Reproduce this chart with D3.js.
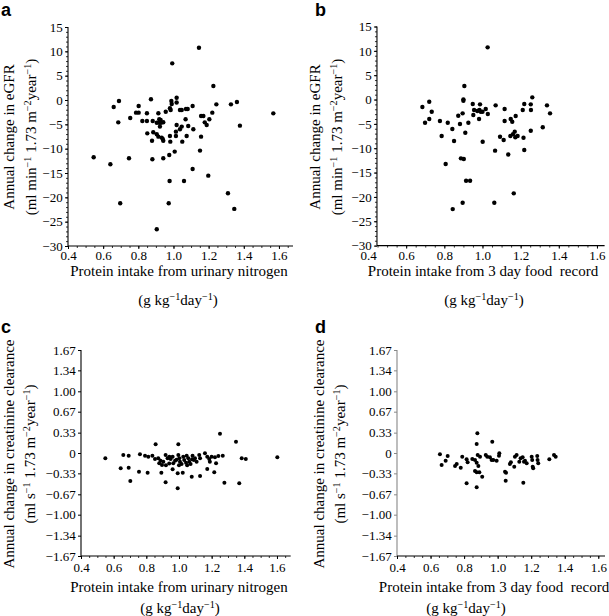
<!DOCTYPE html>
<html><head><meta charset="utf-8">
<script src="https://cdn.jsdelivr.net/npm/d3@7"></script>
<style>
body{margin:0;background:#fff}
svg{display:block;background:#fff}
text{font-family:'Liberation Serif','Times New Roman',serif;fill:#000}
</style>
</head><body>
<svg id="chart" width="609" height="616"></svg>
<script>
// ---------------- data ----------------
const aPoints = [[1.145,10.74],[0.993,7.53],[1.227,2.87],[0.872,0.14],[1.018,0.47],[0.690,-0.21],[0.660,-1.44],[0.802,-1.23],[0.988,-0.20],[0.990,-0.82],[0.980,-1.70],[0.984,-2.05],[1.037,-2.05],[1.047,-2.05],[1.071,-1.85],[1.081,-1.85],[1.109,-1.23],[0.956,-2.40],[0.914,-2.73],[0.787,-2.60],[0.802,-2.60],[0.849,-2.73],[0.754,-3.70],[0.823,-4.30],[0.849,-4.30],[0.882,-4.30],[0.905,-4.66],[0.919,-4.66],[0.929,-4.66],[0.919,-3.97],[1.069,-3.97],[1.157,-3.29],[1.170,-3.29],[1.178,-4.59],[1.189,-5.13],[1.204,-3.97],[1.221,-2.60],[1.244,-0.89],[1.327,-0.89],[1.361,-0.41],[1.568,-2.74],[1.378,-5.27],[0.686,-4.59],[0.923,-5.47],[1.018,-5.13],[1.047,-5.47],[1.037,-6.02],[1.084,-5.34],[1.113,-6.02],[0.851,-6.85],[0.885,-6.64],[0.905,-7.05],[0.914,-7.53],[0.933,-7.73],[0.980,-7.39],[1.014,-7.39],[1.075,-7.39],[1.157,-7.53],[0.939,-8.00],[0.942,-8.36],[0.878,-8.36],[0.982,-8.56],[1.050,-8.56],[0.546,-11.77],[0.641,-13.20],[0.747,-11.97],[0.880,-12.18],[0.942,-11.97],[0.976,-11.29],[1.007,-10.60],[1.151,-10.40],[1.109,-14.17],[0.978,-16.63],[1.060,-16.63],[1.198,-15.54],[0.697,-21.21],[0.973,-21.21],[1.310,-19.16],[1.346,-22.38],[0.905,-26.55],[1.018,-0.50],[1.014,-6.50],[0.942,-4.58],[0.927,-4.10]];

const bPoints = [[1.027,10.72],[0.905,2.77],[0.900,0.04],[0.900,-0.25],[0.685,-1.54],[0.721,-0.45],[0.734,-2.50],[0.699,-4.76],[0.721,-4.00],[0.777,-4.41],[0.818,-4.76],[0.842,-6.06],[0.873,-3.33],[0.896,-2.84],[0.882,-5.03],[0.926,-4.76],[0.910,-6.82],[0.786,-7.49],[0.851,-8.52],[0.949,-0.92],[0.952,-3.18],[0.956,-2.16],[0.973,-2.36],[0.984,-2.16],[0.991,-2.50],[1.000,-2.50],[1.017,-1.95],[1.028,-2.98],[0.982,-4.00],[0.987,-0.99],[1.069,-1.19],[1.116,-1.95],[1.116,-4.41],[1.148,-4.00],[1.156,-4.55],[1.174,-3.39],[1.211,-2.16],[1.219,-0.92],[1.253,-0.99],[1.261,0.45],[1.254,-2.16],[1.338,-1.19],[1.354,-2.84],[1.316,-5.70],[1.253,-6.40],[1.092,-7.63],[1.111,-8.32],[1.146,-7.49],[1.160,-7.14],[1.169,-6.60],[1.172,-7.76],[1.184,-7.49],[1.215,-7.84],[1.001,-8.66],[1.066,-10.50],[1.135,-11.30],[1.219,-10.37],[0.807,-13.25],[0.887,-12.08],[0.902,-12.22],[0.914,-16.67],[0.935,-16.67],[0.896,-21.20],[0.844,-22.50],[1.062,-21.20],[1.164,-19.27]];

const cPoints = [[0.857,0.141],[0.996,0.141],[1.251,0.313],[1.349,0.183],[0.549,-0.086],[0.659,-0.032],[0.692,-0.044],[0.643,-0.248],[0.692,-0.238],[0.702,-0.454],[0.755,-0.303],[0.761,-0.021],[0.792,-0.044],[0.812,-0.060],[0.837,-0.044],[0.808,-0.319],[0.853,-0.097],[0.892,-0.319],[0.918,-0.475],[0.918,-0.032],[0.961,-0.264],[0.992,-0.329],[1.023,-0.319],[0.992,-0.572],[0.996,-0.032],[1.078,-0.384],[1.129,-0.373],[1.159,-0.005],[1.173,-0.259],[1.216,-0.313],[1.227,-0.167],[1.241,-0.049],[1.268,-0.044],[1.278,-0.481],[1.369,-0.491],[1.384,-0.086],[1.409,-0.097],[1.602,-0.070],[0.873,-0.086],[0.887,-0.124],[0.879,-0.167],[0.896,-0.194],[0.904,-0.140],[0.930,-0.086],[0.941,-0.059],[0.949,-0.097],[0.961,-0.059],[0.965,-0.167],[0.976,-0.124],[1.002,-0.086],[1.006,-0.140],[1.016,-0.178],[1.026,-0.059],[1.032,-0.113],[1.043,-0.157],[1.047,-0.043],[1.057,-0.086],[1.063,-0.140],[1.071,-0.178],[1.083,-0.043],[1.091,-0.113],[1.098,-0.086],[1.108,-0.140],[1.124,-0.032],[1.129,-0.086],[1.173,-0.059],[1.185,-0.097],[1.189,-0.140],[1.200,-0.059],[1.220,-0.070],[0.920,-0.200],[0.940,-0.170],[1.000,-0.200],[1.050,-0.200],[1.080,-0.100],[0.985,-0.110]];

const dPoints = [[0.879,0.319],[0.875,0.146],[0.968,0.183],[0.656,-0.021],[0.666,-0.194],[0.690,-0.124],[0.702,-0.049],[0.746,-0.210],[0.756,-0.178],[0.780,-0.238],[0.789,-0.060],[0.815,-0.103],[0.821,-0.151],[0.815,-0.491],[0.849,-0.097],[0.865,-0.113],[0.875,-0.157],[0.881,-0.032],[0.865,-0.292],[0.875,-0.313],[0.891,-0.313],[0.885,-0.211],[0.875,-0.556],[0.908,-0.384],[0.895,-0.060],[0.929,-0.032],[0.938,-0.060],[0.954,-0.070],[0.964,-0.113],[0.974,-0.113],[0.994,-0.124],[1.010,-0.005],[1.008,-0.044],[1.044,-0.303],[1.050,-0.319],[1.048,-0.449],[1.073,-0.178],[1.079,-0.151],[1.099,-0.222],[1.103,-0.060],[1.113,-0.032],[1.129,-0.141],[1.137,-0.086],[1.149,-0.070],[1.157,-0.141],[1.163,-0.124],[1.153,-0.481],[1.173,-0.167],[1.203,-0.060],[1.206,-0.113],[1.209,-0.222],[1.212,-0.248],[1.236,-0.049],[1.238,-0.113],[1.242,-0.167],[1.308,-0.103],[1.336,-0.032],[1.346,-0.060]];

const xTickValues = [0.4,0.6,0.8,1.0,1.2,1.4,1.6];
const gfrTickValues = [15,10,5,0,-5,-10,-15,-20,-25,-30];
const clrTickValues = [1.67,1.34,1.00,0.67,0.33,0,-0.33,-0.67,-1.00,-1.34,-1.67];
const clrTickLabels = ["1.67","1.34","1.00","0.67","0.33","0","\u22120.33","\u22120.67","\u22121.00","\u22121.34","\u22121.67"];

const panelLetters = ["a","b","c","d"];
const gfrTitle1 = "Annual change in eGFR";
const gfrTitle2 = [["(ml min",0],["\u22121",1],[" 1.73 m",0],["\u22122",1],["year",0],["\u22121",1],[")",0]];
const clrTitle1 = "Annual change in creatinine clearance";
const clrTitle2 = [["(ml s",0],["\u22121",1],[" 1.73 m",0],["\u22122",1],["year",0],["\u22121",1],[")",0]];
const urinTitle = "Protein intake from urinary nitrogen";
const foodTitle = "Protein intake from 3 day food\u00a0 record";
const unitTitle = [["(g kg",0],["\u22121",1],["day",0],["\u22121",1],[")",0]];

// ---------------- layout ----------------
const svg = d3.select("#chart");
const fmtGfr = d => (d < 0 ? "\u2212" + Math.abs(d) : String(d));
const serif = "'Liberation Serif','Times New Roman',serif";

const panels = [
  {lx:1, ly:16, pts:aPoints, xd:[0.4,1.68], xr:[68,293], yAxisAt:0.4,
   yd:[-30,15], yr:[246,27], yticks:gfrTickValues, ylabels:gfrTickValues.map(fmtGfr), minorY:1,
   t1:gfrTitle1, t2:gfrTitle2, ty1:14, ty2:36, tyc:137,
   xt1:urinTitle, xt1x:179, xt1y:276, xt2x:178, xt2y:305, xpad:1.8, r:2.2, yAxisColor:"#000"},
  {lx:315, ly:16, pts:bPoints, xd:[0.4,1.64], xr:[368,604.6], yAxisAt:0.447,
   yd:[-30,15], yr:[245.6,26.5], yticks:gfrTickValues, ylabels:gfrTickValues.map(fmtGfr), minorY:1,
   t1:gfrTitle1, t2:gfrTitle2, ty1:320, ty2:342, tyc:137,
   xt1:foodTitle, xt1x:483, xt1y:276, xt2x:484, xt2y:305, xpad:2.0, r:2.2, yAxisColor:"#000"},
  {lx:1, ly:333, pts:cPoints, xd:[0.4,1.684], xr:[81,290.7], yAxisAt:0.4,
   yd:[-1.67,1.67], yr:[556,350], yticks:clrTickValues, ylabels:clrTickLabels, minorY:0,
   t1:clrTitle1, t2:clrTitle2, ty1:14, ty2:35, tyc:454,
   xt1:urinTitle, xt1x:179, xt1y:592, xt2x:180, xt2y:613, xpad:3.8, r:2.0, yAxisColor:"#000"},
  {lx:315, ly:333, pts:dPoints, xd:[0.4,1.64], xr:[397,605], yAxisAt:0.4,
   yd:[-1.67,1.67], yr:[556,350], yticks:clrTickValues, ylabels:clrTickLabels, minorY:0,
   t1:clrTitle1, t2:clrTitle2, ty1:324, ty2:345, tyc:454,
   xt1:foodTitle, xt1x:494, xt1y:592, xt2x:466, xt2y:613, xpad:3.8, r:2.0, yAxisColor:"#888"}
];

function richText(sel, parts, size) {
  parts.forEach((p, i) => {
    const prevSup = i > 0 && parts[i-1][1];
    const t = sel.append("tspan").text(p[0]);
    if (p[1]) { t.attr("font-size", size*0.68).attr("dy", -size*0.36); }
    else if (prevSup) { t.attr("dy", size*0.36); }
  });
}

panels.forEach((p, idx) => {
  const x = d3.scaleLinear().domain(p.xd).range(p.xr);
  const y = d3.scaleLinear().domain(p.yd).range(p.yr);
  const g = svg.append("g");
  const ax0 = x(p.yAxisAt);
  const yBottom = p.yr[0];

  // panel letter
  svg.append("text").attr("x", p.lx).attr("y", p.ly)
    .style("font-family", "'Liberation Sans', Arial, sans-serif")
    .attr("font-weight", "bold").attr("font-size", 18).text(panelLetters[idx]);

  // x minor ticks
  const minor = d3.range(Math.round(p.yAxisAt*20), Math.floor(p.xd[1]*20)+1).map(k => k/20);
  const xMinor = g.append("g").attr("transform", `translate(0,${yBottom})`)
    .call(d3.axisBottom(x).tickValues(minor).tickSize(2).tickFormat(""));
  xMinor.select(".domain").remove();
  xMinor.selectAll("line").attr("stroke", "#000").attr("stroke-width", 0.8);

  // x major axis
  const xAx = g.append("g").attr("transform", `translate(0,${yBottom})`)
    .call(d3.axisBottom(x).tickValues(xTickValues).tickSize(3).tickPadding(p.xpad).tickFormat(d3.format(".1f")));
  xAx.attr("font-family", serif).attr("font-size", 13);
  xAx.select(".domain").remove();
  xAx.selectAll("line").attr("stroke", "#000").attr("opacity", d => d >= p.yAxisAt - 1e-6 ? 1 : 0);
  xAx.selectAll("text").attr("font-size", 13).style("font-family", serif);

  // y minor ticks
  if (p.minorY) {
    const ym = d3.range(p.yd[0], p.yd[1] + 0.001, p.minorY);
    const yMin = g.append("g").attr("transform", `translate(${ax0},0)`)
      .call(d3.axisLeft(y).tickValues(ym).tickSize(2).tickFormat(""));
    yMin.select(".domain").remove();
    yMin.selectAll("line").attr("stroke", p.yAxisColor).attr("stroke-width", 0.8);
  }
  // y major axis
  const yAx = g.append("g").attr("transform", `translate(${ax0},0)`)
    .call(d3.axisLeft(y).tickValues(p.yticks).tickSize(3).tickPadding(2.3)
      .tickFormat((d, i) => p.ylabels[i]));
  yAx.attr("font-family", serif).attr("font-size", 13);
  yAx.select(".domain").remove();
  yAx.selectAll("line").attr("stroke", p.yAxisColor);
  yAx.selectAll("text").attr("font-size", 13).style("font-family", serif);

  // axis lines
  g.append("line").attr("x1", ax0).attr("x2", ax0).attr("y1", y(p.yd[0])).attr("y2", y(p.yd[1]))
    .attr("stroke", p.yAxisColor).attr("stroke-width", 1.1);
  g.append("line").attr("x1", ax0).attr("x2", x(p.xd[1])).attr("y1", yBottom).attr("y2", yBottom)
    .attr("stroke", "#000").attr("stroke-width", 1.1);

  // dots
  g.append("g").selectAll("circle").data(p.pts).join("circle")
    .attr("cx", d => x(d[0])).attr("cy", d => y(d[1])).attr("r", p.r).attr("fill", "#000");

  // y titles
  svg.append("text").attr("transform", `translate(${p.ty1},${p.tyc}) rotate(-90)`)
    .attr("text-anchor", "middle").attr("font-size", 15).text(p.t1);
  const t2 = svg.append("text").attr("transform", `translate(${p.ty2},${p.tyc}) rotate(-90)`)
    .attr("text-anchor", "middle").attr("font-size", 15);
  richText(t2, p.t2, 15);

  // x titles
  svg.append("text").attr("x", p.xt1x).attr("y", p.xt1y).attr("text-anchor", "middle")
    .attr("font-size", 15).text(p.xt1);
  const xt2 = svg.append("text").attr("x", p.xt2x).attr("y", p.xt2y).attr("text-anchor", "middle")
    .attr("font-size", 15);
  richText(xt2, unitTitle, 15);
});
</script>
</body></html>
